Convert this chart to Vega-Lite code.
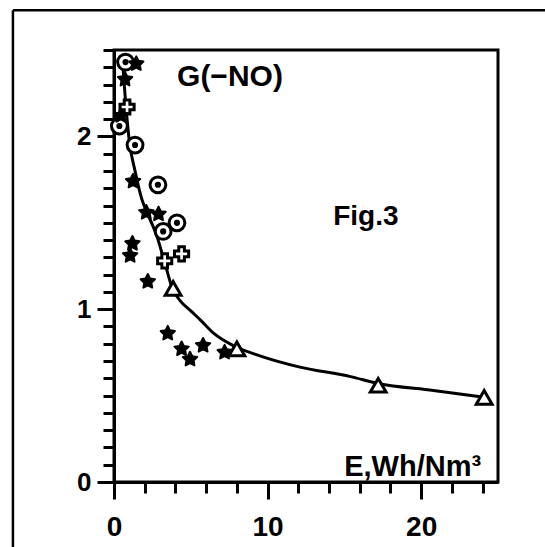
{
  "$schema": "https://vega.github.io/schema/vega-lite/v6.json",
  "autosize": {"type": "none"},
  "width": 384,
  "height": 432,
  "padding": {"left": 114, "top": 50, "right": 47, "bottom": 65},
  "background": "white",
  "config": {
    "view": {"stroke": "black", "strokeWidth": 3},
    "font": "Liberation Sans",
    "axis": {"domainColor": "black", "domainWidth": 3, "tickColor": "black", "tickWidth": 3, "grid": false, "labelColor": "black", "labelFont": "Liberation Sans", "labelFontWeight": "bold", "title": null}
  },
  "datasets": {
    "curve": [
      {"E": 0.55, "G": 2.45}, {"E": 0.8, "G": 2.15}, {"E": 1.0, "G": 1.97}, {"E": 1.37, "G": 1.8},
      {"E": 1.8, "G": 1.64}, {"E": 2.3, "G": 1.53}, {"E": 2.8, "G": 1.42}, {"E": 3.3, "G": 1.27},
      {"E": 3.8, "G": 1.12}, {"E": 4.3, "G": 1.05}, {"E": 5.0, "G": 0.99}, {"E": 5.6, "G": 0.94},
      {"E": 6.5, "G": 0.86}, {"E": 7.75, "G": 0.79}, {"E": 9.5, "G": 0.73}, {"E": 12.1, "G": 0.665},
      {"E": 15.4, "G": 0.61}, {"E": 17.2, "G": 0.57}, {"E": 20.8, "G": 0.53}, {"E": 24.1, "G": 0.49}
    ],
    "points": [
      {"E": 0.75, "G": 2.43, "type": "circle-dot"},
      {"E": 0.35, "G": 2.06, "type": "circle-dot"},
      {"E": 1.37, "G": 1.95, "type": "circle-dot"},
      {"E": 2.86, "G": 1.72, "type": "circle-dot"},
      {"E": 4.1, "G": 1.5, "type": "circle-dot"},
      {"E": 3.2, "G": 1.45, "type": "circle-dot"},
      {"E": 1.45, "G": 2.42, "type": "star"},
      {"E": 0.72, "G": 2.33, "type": "star"},
      {"E": 0.45, "G": 2.12, "type": "star"},
      {"E": 1.24, "G": 1.74, "type": "star"},
      {"E": 2.1, "G": 1.56, "type": "star"},
      {"E": 2.9, "G": 1.55, "type": "star"},
      {"E": 1.2, "G": 1.38, "type": "star"},
      {"E": 1.05, "G": 1.31, "type": "star"},
      {"E": 2.2, "G": 1.16, "type": "star"},
      {"E": 3.5, "G": 0.86, "type": "star"},
      {"E": 4.4, "G": 0.77, "type": "star"},
      {"E": 4.95, "G": 0.71, "type": "star"},
      {"E": 5.8, "G": 0.79, "type": "star"},
      {"E": 7.2, "G": 0.75, "type": "star"},
      {"E": 0.85, "G": 2.17, "type": "cross"},
      {"E": 3.3, "G": 1.28, "type": "cross"},
      {"E": 4.4, "G": 1.32, "type": "cross"},
      {"E": 3.85, "G": 1.12, "type": "triangle"},
      {"E": 8.0, "G": 0.77, "type": "triangle"},
      {"E": 17.2, "G": 0.56, "type": "triangle"},
      {"E": 24.1, "G": 0.49, "type": "triangle"}
    ]
  },
  "layer": [
    {
      "data": {"name": "curve"},
      "mark": {"type": "line", "color": "black", "strokeWidth": 3, "interpolate": "monotone"},
      "encoding": {
        "x": {"field": "E", "type": "quantitative", "scale": {"domain": [0, 25], "nice": false},
              "axis": {"values": [0, 2, 4, 6, 8, 10, 12, 14, 16, 18, 20, 22, 24], "tickCount": 40,
                       "labelExpr": "datum.value % 10 === 0 ? format(datum.value, 'd') : ''",
                       "tickSize": {"condition": {"test": "datum.value % 10 === 0", "value": 17}, "value": 11},
                       "labelFontSize": 28, "labelPadding": 14, "labelFlush": false, "labelOverlap": false}},
        "y": {"field": "G", "type": "quantitative", "scale": {"domain": [0, 2.5], "nice": false},
              "axis": {"values": [0, 0.1, 0.2, 0.3, 0.4, 0.5, 0.6, 0.7, 0.8, 0.9, 1, 1.1, 1.2, 1.3, 1.4, 1.5, 1.6, 1.7, 1.8, 1.9, 2, 2.1, 2.2, 2.3, 2.4, 2.5], "tickCount": 40,
                       "labelExpr": "abs(datum.value - round(datum.value)) < 0.001 ? format(datum.value, 'd') : ''",
                       "tickSize": {"condition": {"test": "abs(datum.value - round(datum.value)) < 0.001", "value": 17}, "value": 11},
                       "labelFontSize": 26, "labelPadding": 6, "labelFlush": false, "labelOverlap": false}}
      }
    },
    {
      "data": {"name": "points"},
      "transform": [{"filter": "datum.type === 'circle-dot'"}],
      "mark": {"type": "point", "shape": "M -1 0 A 1 1 0 1 0 1 0 A 1 1 0 1 0 -1 0 Z M -0.2 0 A 0.2 0.2 0 1 0 0.2 0 A 0.2 0.2 0 1 0 -0.2 0 Z", "size": 250, "stroke": "black", "strokeWidth": 3, "fill": "white", "filled": false, "fillOpacity": 1, "opacity": 1},
      "encoding": {"x": {"field": "E", "type": "quantitative"}, "y": {"field": "G", "type": "quantitative"}}
    },
    {
      "data": {"name": "points"},
      "transform": [{"filter": "datum.type === 'cross'"}],
      "mark": {"type": "point", "shape": "cross", "size": 200, "stroke": "black", "strokeWidth": 3, "fill": "white", "filled": false, "fillOpacity": 1, "opacity": 1},
      "encoding": {"x": {"field": "E", "type": "quantitative"}, "y": {"field": "G", "type": "quantitative"}}
    },
    {
      "data": {"name": "points"},
      "transform": [{"filter": "datum.type === 'triangle'"}],
      "mark": {"type": "point", "shape": "triangle-up", "size": 250, "stroke": "black", "strokeWidth": 3, "fill": "white", "filled": false, "fillOpacity": 1, "opacity": 1},
      "encoding": {"x": {"field": "E", "type": "quantitative"}, "y": {"field": "G", "type": "quantitative"}}
    },
    {
      "data": {"name": "points"},
      "transform": [{"filter": "datum.type === 'star'"}],
      "mark": {"type": "point", "shape": "M 0 -1 L 0.294 -0.405 L 0.951 -0.309 L 0.476 0.155 L 0.588 0.809 L 0 0.5 L -0.588 0.809 L -0.476 0.155 L -0.951 -0.309 L -0.294 -0.405 Z", "size": 225, "stroke": "black", "strokeWidth": 2, "strokeJoin": "round", "fill": "black", "filled": true, "fillOpacity": 1, "opacity": 1},
      "encoding": {"x": {"field": "E", "type": "quantitative"}, "y": {"field": "G", "type": "quantitative"}}
    },
    {
      "data": {"values": [{"t": "G(−NO)"}]},
      "mark": {"type": "text", "font": "Liberation Sans", "fontWeight": "bold", "fontSize": 30, "align": "center", "baseline": "alphabetic", "color": "black"},
      "encoding": {"text": {"field": "t"}, "x": {"datum": 7.55}, "y": {"datum": 2.29}}
    },
    {
      "data": {"values": [{"t": "Fig.3"}]},
      "mark": {"type": "text", "font": "Liberation Sans", "fontWeight": "bold", "fontSize": 28, "align": "center", "baseline": "alphabetic", "color": "black"},
      "encoding": {"text": {"field": "t"}, "x": {"datum": 16.4}, "y": {"datum": 1.49}}
    },
    {
      "data": {"values": [{"t": "E,Wh/Nm³"}]},
      "mark": {"type": "text", "font": "Liberation Sans", "fontWeight": "bold", "fontSize": 29, "align": "right", "baseline": "alphabetic", "color": "black"},
      "encoding": {"text": {"field": "t"}, "x": {"datum": 23.9}, "y": {"datum": 0.035}}
    },
    {
      "data": {"values": [{"k": 1}]},
      "mark": {"type": "rule", "color": "black", "strokeWidth": 2.5, "clip": false},
      "encoding": {"x": {"datum": -6.58}, "y": {"datum": 2.73}, "y2": {"datum": -0.5}}
    },
    {
      "data": {"values": [{"k": 1}]},
      "mark": {"type": "rule", "color": "black", "strokeWidth": 2.5, "clip": false},
      "encoding": {"y": {"datum": 2.73}, "x": {"datum": -6.58}, "x2": {"datum": 30}}
    }
  ]
}
